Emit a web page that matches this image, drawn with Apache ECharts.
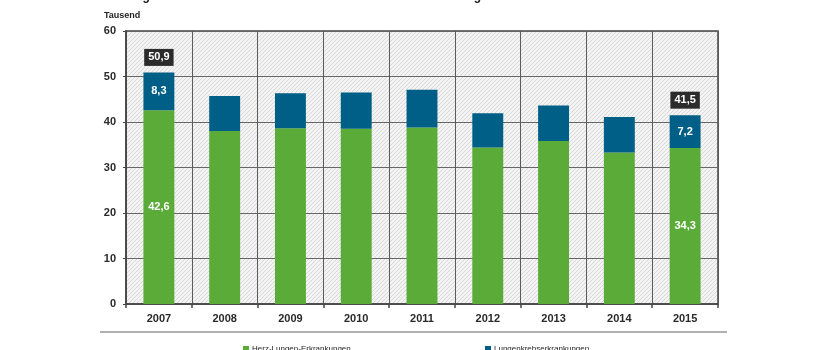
<!DOCTYPE html>
<html>
<head>
<meta charset="utf-8">
<style>
  html, body { margin: 0; padding: 0; background: #fff; }
  #chart { width: 830px; height: 350px; }
</style>
<script src="https://cdn.jsdelivr.net/npm/echarts@6/dist/echarts.min.js"></script>
</head>
<body>
<div id="chart"></div>
<script>
// Jahre
const years = ['2007', '2008', '2009', '2010', '2011', '2012', '2013', '2014', '2015'];
// Todesfälle in Tausend
const herzLunge = [42.6, 38.0, 38.6, 38.5, 38.8, 34.4, 35.8, 33.3, 34.3];
const lungenkrebs = [8.3, 7.7, 7.7, 8.0, 8.3, 7.5, 7.8, 7.8, 7.2];
// Jahre mit beschrifteten Werten
const labelledYears = ['2007', '2015'];
const yTicks = [0, 10, 20, 30, 40, 50, 60];

const fmt = v => v.toFixed(1).replace('.', ',');
const totals = herzLunge.map((v, i) => Math.round((v + lungenkrebs[i]) * 10) / 10);

// diagonal hatch pattern for the plot background
function hatch() {
  const c = document.createElement('canvas');
  c.width = 4; c.height = 4;
  const g = c.getContext('2d');
  g.fillStyle = '#f3f3f3';
  g.fillRect(0, 0, 4, 4);
  g.strokeStyle = '#d2d2d2';
  g.lineWidth = 0.8;
  g.beginPath();
  g.moveTo(0, 4); g.lineTo(4, 0);
  g.moveTo(-1, 1); g.lineTo(1, -1);
  g.moveTo(3, 5); g.lineTo(5, 3);
  g.stroke();
  return c;
}

const font = 'Liberation Sans';
const withLabels = arr => arr.map((v, i) => ({
  value: v,
  label: { show: labelledYears.includes(years[i]) }
}));

const chart = echarts.init(document.getElementById('chart'), null, { renderer: 'canvas' });
chart.setOption({
  animation: false,
  textStyle: { fontFamily: font },
  graphic: [
    {
      type: 'text', left: 100, top: -9,
      style: {
        text: 'Vorzeitige Todesfälle durch von Feinstaub verursachte Erkrankungen',
        font: 'bold 12px ' + font, fill: '#222'
      }
    },
    {
      type: 'text', left: 104, top: 11,
      style: { text: 'Tausend', font: 'bold 9px ' + font, fill: '#222' }
    },
    {
      type: 'rect', shape: { x: 100, y: 331, width: 627, height: 2 },
      style: { fill: '#b0b0b0' }
    }
  ],
  grid: {
    left: 126, right: 112, top: 31, bottom: 46,
    show: true,
    backgroundColor: { image: hatch(), repeat: 'repeat' },
    borderColor: '#444', borderWidth: 1.5
  },
  legend: [
    {
      data: ['Herz-Lungen-Erkrankungen'], left: 238, top: 340,
      itemWidth: 6, itemHeight: 6, itemGap: 4, icon: 'rect',
      textStyle: { fontSize: 8, color: '#222', fontFamily: font, padding: [0, 0, 0, -2] }
    },
    {
      data: ['Lungenkrebserkrankungen'], left: 480, top: 340,
      itemWidth: 6, itemHeight: 6, itemGap: 4, icon: 'rect',
      textStyle: { fontSize: 8, color: '#222', fontFamily: font, padding: [0, 0, 0, -2] }
    }
  ],
  xAxis: {
    type: 'category', data: years,
    axisLine: { lineStyle: { color: '#444', width: 1.5 } },
    axisTick: { show: true, length: 4, lineStyle: { color: '#444', width: 1.5 } },
    splitLine: { show: true, lineStyle: { color: '#5a5a5a', width: 1 } },
    axisLabel: { color: '#2a2a2a', fontSize: 11, fontWeight: 'bold', margin: 9, fontFamily: font }
  },
  yAxis: {
    type: 'value', min: yTicks[0], max: yTicks[yTicks.length - 1], interval: 10,
    axisLine: { show: true, lineStyle: { color: '#444', width: 1.5 } },
    axisTick: { show: true, length: 3, lineStyle: { color: '#444' } },
    splitLine: { show: true, lineStyle: { color: '#666', width: 1 } },
    axisLabel: { color: '#2a2a2a', fontSize: 11, fontWeight: 'bold', margin: 10, fontFamily: font }
  },
  series: [
    {
      name: 'Herz-Lungen-Erkrankungen', type: 'bar', stack: 'tf',
      barWidth: '47%',
      itemStyle: { color: '#5aab37' },
      label: {
        position: 'inside', color: '#fff', fontSize: 11, fontWeight: 'bold',
        formatter: p => fmt(p.value)
      },
      data: withLabels(herzLunge)
    },
    {
      name: 'Lungenkrebserkrankungen', type: 'bar', stack: 'tf',
      itemStyle: { color: '#005f86' },
      label: {
        position: 'inside', color: '#fff', fontSize: 11, fontWeight: 'bold',
        formatter: p => fmt(p.value)
      },
      data: withLabels(lungenkrebs)
    },
    {
      // Summenwerte als Kästchen über den Säulen
      name: 'Summe', type: 'scatter', symbol: 'circle', symbolSize: 1,
      itemStyle: { color: 'rgba(0,0,0,0)', opacity: 1 }, silent: true, z: 5,
      label: {
        show: true, position: 'top', distance: 6,
        color: '#fff', fontSize: 11, fontWeight: 'bold',
        backgroundColor: '#2b2b2b', padding: [3, 4, 3, 4],
        formatter: p => fmt(p.value[1])
      },
      data: totals.map((t, i) => [years[i], t]).filter(d => labelledYears.includes(d[0]))
    }
  ]
});
</script>
</body>
</html>
